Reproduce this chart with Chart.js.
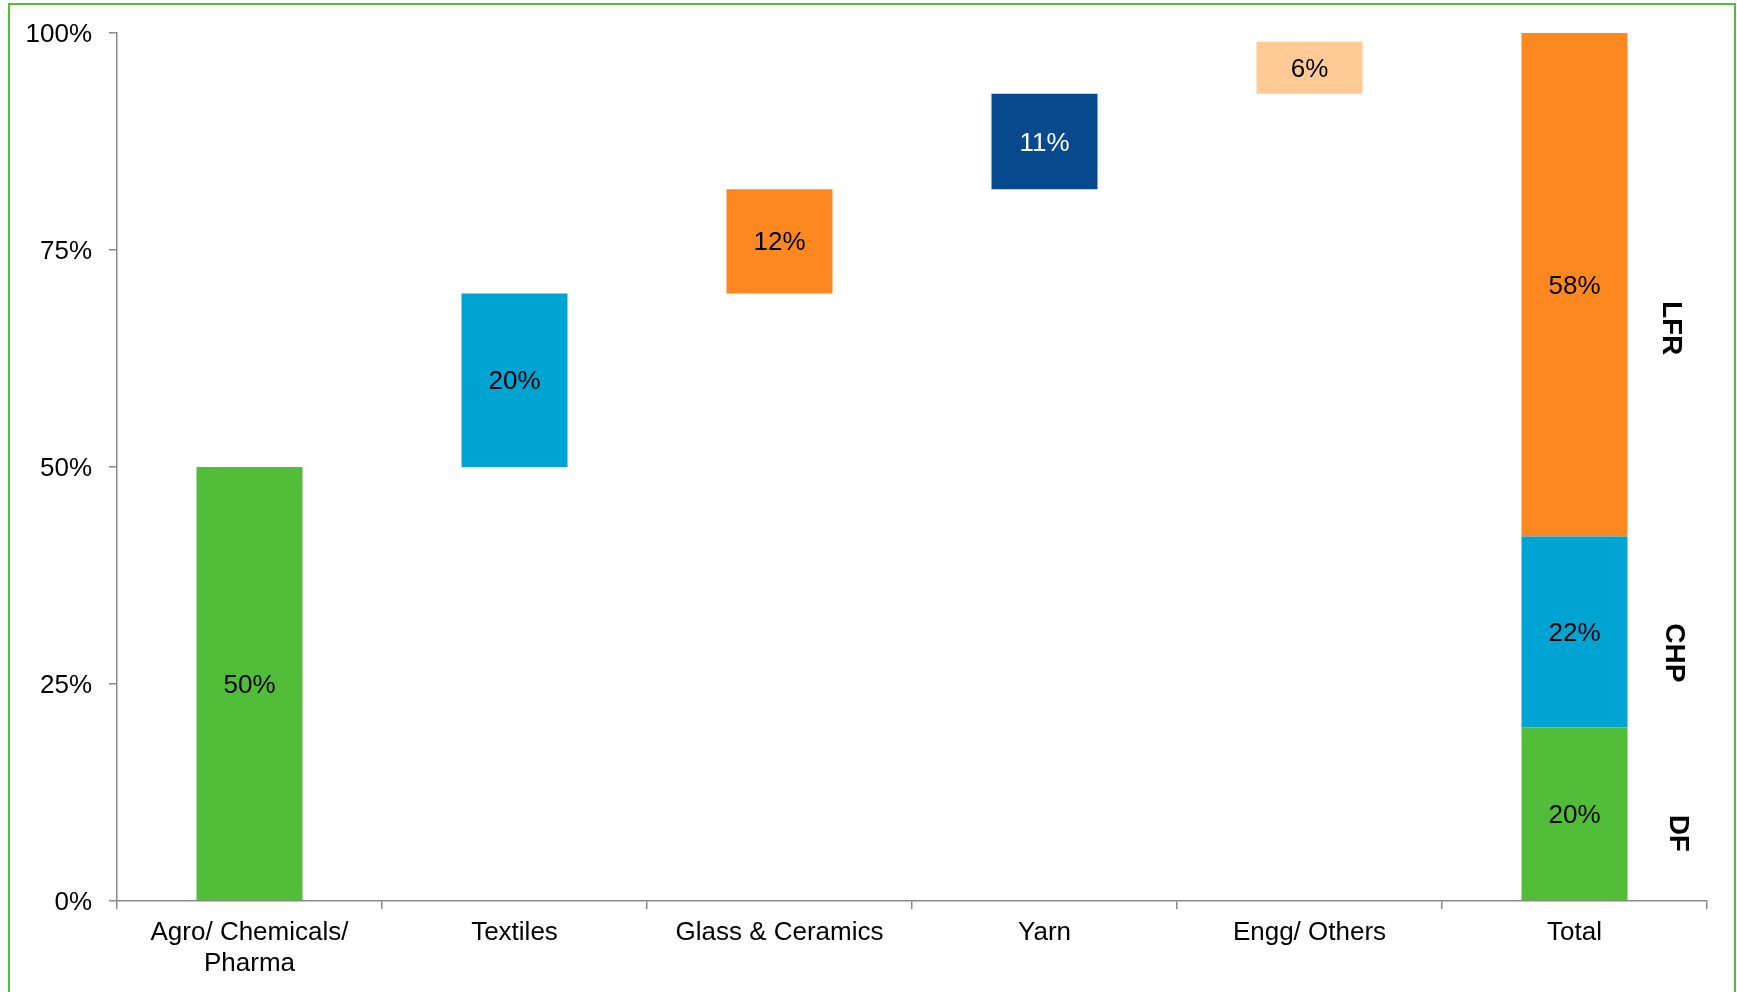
<!DOCTYPE html>
<html>
<head>
<meta charset="utf-8">
<script src="https://cdn.jsdelivr.net/npm/chart.js@4.4.1/dist/chart.umd.min.js"></script>
<style>
  body { margin: 0; background: #fff; overflow: hidden; }
  #wrap { position: relative; width: 1737px; height: 992px; }
  #frame { position: absolute; left: 8px; top: 3px; width: 1728px; height: 1000px; border: 2px solid #52BD38; box-sizing: border-box; pointer-events: none; }
</style>
</head>
<body>
<div id="wrap">
  <canvas id="chart" width="1737" height="992"></canvas>
  <div id="frame"></div>
</div>
<script>
// categories along the x axis
const categories = [['Agro/ Chemicals/', 'Pharma'], 'Textiles', 'Glass & Ceramics', 'Yarn', 'Engg/ Others', 'Total'];

// floating ranges [from, to] in %, one array per colour, null where the colour is absent
const greenBars     = [[0, 50], null, null, null, null, [0, 20]];
const blueBars      = [null, [50, 70], null, null, null, [20, 42]];
const orangeBars    = [null, null, [70, 82], null, null, [42, 100]];
const navyBars      = [null, null, null, [82, 93], null, null];
const peachBars     = [null, null, null, null, [93, 99], null];

// labels shown inside bars
const greenLabels   = ['50%', null, null, null, null, '20%'];
const blueLabels    = [null, '20%', null, null, null, '22%'];
const orangeLabels  = [null, null, '12%', null, null, '58%'];
const navyLabels    = [null, null, null, '11%', null, null];
const peachLabels   = [null, null, null, null, '6%', null];

// y axis ticks
const yTicks = [0, 25, 50, 75, 100];

// segment names on the right of the Total bar, at the value where each sits
const segmentNames = ['LFR', 'CHP', 'DF'];
const segmentAt = [66, 28.6, 7.8];

const FONT = '"Liberation Sans", Arial, sans-serif';
const AXIS = '#898989';

function makeSet(data, color, labels, textColor) {
    return {
        data: data,
        backgroundColor: color,
        borderWidth: 0,
        grouped: false,
        categoryPercentage: 0.4,
        barPercentage: 1,
        labelsInside: labels,
        labelColor: textColor || '#000'
    };
}

// draws the value text in the middle of each bar
const barText = {
    id: 'barText',
    afterDatasetsDraw(chart) {
        const ctx = chart.ctx;
        ctx.save();
        ctx.font = '26px ' + FONT;
        ctx.textAlign = 'center';
        ctx.textBaseline = 'middle';
        chart.data.datasets.forEach((ds, i) => {
            const meta = chart.getDatasetMeta(i);
            meta.data.forEach((bar, j) => {
                const txt = ds.labelsInside[j];
                if (!txt || ds.data[j] == null) return;
                ctx.fillStyle = ds.labelColor;
                ctx.fillText(txt, bar.x, (bar.y + bar.base) / 2 + 2);
            });
        });
        ctx.restore();
    }
};

// rotated LFR / CHP / DF names
const sideNames = {
    id: 'sideNames',
    afterDraw(chart) {
        const ctx = chart.ctx;
        const y = chart.scales.y;
        const xs = [1671, 1674, 1678];
        ctx.save();
        ctx.font = 'bold 28px ' + FONT;
        ctx.fillStyle = '#000';
        ctx.textAlign = 'center';
        ctx.textBaseline = 'middle';
        segmentNames.forEach((name, i) => {
            ctx.save();
            ctx.translate(xs[i], y.getPixelForValue(segmentAt[i]));
            ctx.rotate(Math.PI / 2);
            ctx.fillText(name, 0, 0);
            ctx.restore();
        });
        ctx.restore();
    }
};

const ctx = document.getElementById('chart');
const chart = new Chart(ctx, {
    type: 'bar',
    data: {
        labels: categories,
        datasets: [
            makeSet(greenBars, '#52BD38', greenLabels),
            makeSet(blueBars, '#00A4D3', blueLabels),
            makeSet(orangeBars, '#FD8820', orangeLabels),
            makeSet(navyBars, '#064A8D', navyLabels, '#fff'),
            makeSet(peachBars, '#FFCA96', peachLabels)
        ]
    },
    options: {
        responsive: false,
        animation: false,
        devicePixelRatio: 1,
        layout: { padding: { left: 0, top: 33, right: 30, bottom: 0 } },
        plugins: {
            legend: { display: false },
            tooltip: { enabled: false }
        },
        scales: {
            x: {
                offset: true,
                grid: { drawOnChartArea: false, offset: true, color: AXIS, lineWidth: 1.5, tickLength: 8 },
                border: { color: AXIS, width: 1.5 },
                ticks: { color: '#000', padding: 8, font: { family: FONT, size: 26, lineHeight: 1.2 }, maxRotation: 0, autoSkip: false },
                afterFit: (s) => { s.height = 91; }
            },
            y: {
                min: 0,
                max: 100,
                afterBuildTicks: (s) => { s.ticks = yTicks.map(v => ({ value: v })); },
                grid: { drawOnChartArea: false, color: AXIS, lineWidth: 1.5, tickLength: 8 },
                border: { color: AXIS, width: 1.5 },
                ticks: { color: '#000', padding: 17, labelOffset: 2, font: { family: FONT, size: 26 }, callback: (v) => v + '%' },
                afterFit: (s) => { s.width = 117; }
            }
        }
    },
    plugins: [barText, sideNames]
});
</script>
</body>
</html>
